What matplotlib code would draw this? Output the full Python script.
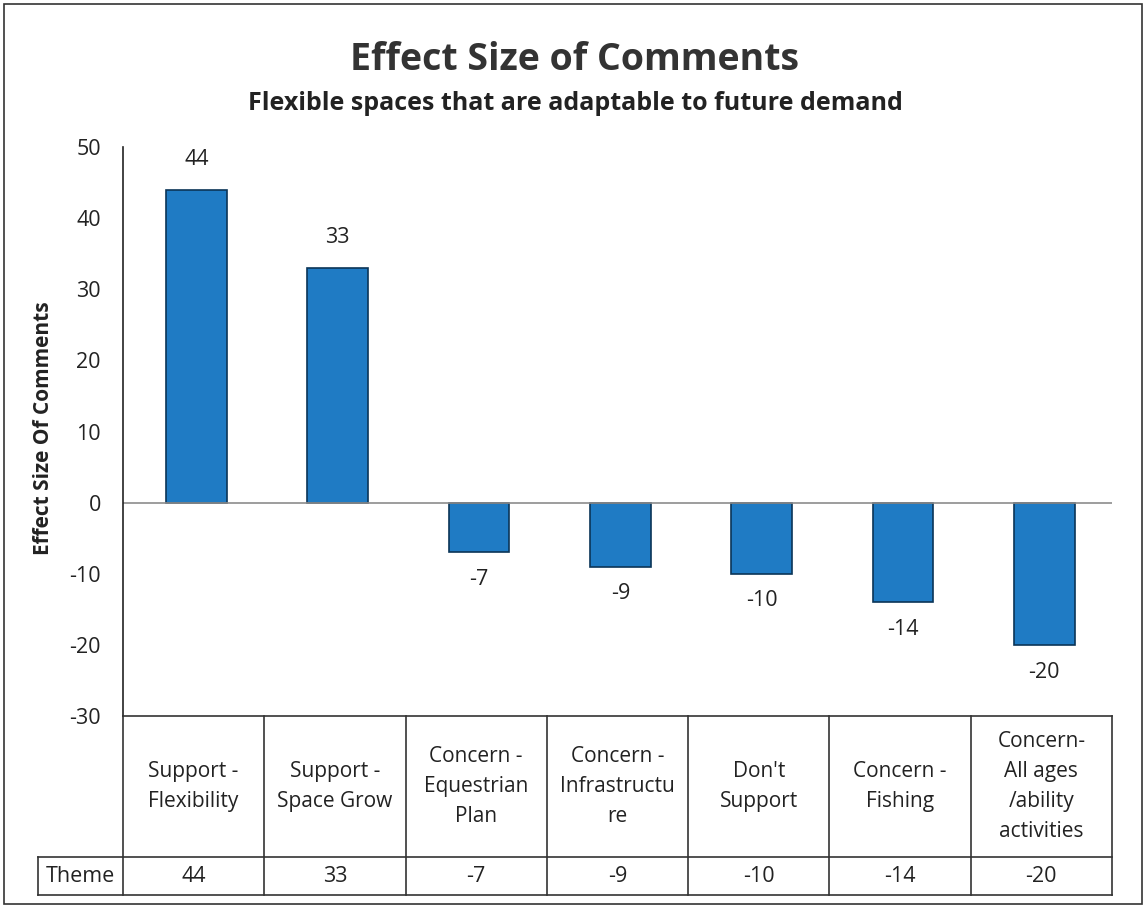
"""
Effect Size of Comments - bar chart with data table underneath
"""
import matplotlib.pyplot as plt
import numpy as np

categories = ['Support -\nFlexibility', 'Support -\nSpace Grow', 'Concern -\nEquestrian\nPlan',
              'Concern -\nInfrastructu\nre', "Don't\nSupport", 'Concern -\nFishing',
              'Concern-\nAll ages\n/ability\nactivities']
values = [44, 33, -7, -9, -10, -14, -20]
series_name = 'Theme'
yticks = [50, 40, 30, 20, 10, 0, -10, -20, -30]

W, H = 1146, 911
plt.rcParams['font.family'] = ['Open Sans', 'DejaVu Sans']
fig = plt.figure(figsize=(W / 100, H / 100), dpi=100)


def box(x0, y0, x1, y1):
    # pixel box (top-left origin) -> figure rect
    return [x0 / W, 1 - y1 / H, (x1 - x0) / W, (y1 - y0) / H]


# outer chart border
fig.patches.append(plt.Rectangle((4 / W, 1 - 904 / H), 1138 / W, 900 / H,
                                 transform=fig.transFigure, fill=False,
                                 edgecolor='#333333', linewidth=1.2))

n = len(values)
x = np.arange(n) + 0.5

ax = fig.add_axes(box(123, 147, 1112, 716))
ax.bar(x + 0.02, values, width=0.43, color='#1f7bc4', edgecolor='#0b3557', linewidth=1.2)
ax.axhline(0, color='#8c8c8c', linewidth=1.2)
ax.set_xlim(0, n)
ax.set_ylim(-30, 50)
ax.set_yticks(yticks)
ax.set_yticklabels([str(t) for t in yticks], fontsize=15.5, color='#222222')
ax.tick_params(axis='y', length=0, pad=16)
ax.set_xticks([])
for s in ['top', 'right', 'bottom']:
    ax.spines[s].set_visible(False)
ax.spines['left'].set_color('#222222')
ax.spines['left'].set_linewidth(1.2)

for xi, v in zip(x + 0.02, values):
    if v >= 0:
        ax.annotate(str(v), (xi, v), xytext=(0, 14), textcoords='offset points',
                    ha='center', va='bottom', fontsize=15.5, color='#222222')
    else:
        ax.annotate(str(v), (xi, v), xytext=(0, -12), textcoords='offset points',
                    ha='center', va='top', fontsize=15.5, color='#222222')

ax.set_ylabel('Effect Size Of Comments', fontsize=15, fontweight='bold',
              color='#222222')
ax.yaxis.set_label_coords(-0.07, 0.505)

# data table below the plot
tab = fig.add_axes(box(123, 716, 1112, 895))
tab.set_xlim(0, n)
tab.set_ylim(179, 0)
tab.axis('off')
row_split = 141
lc = '#333333'
tab.plot([0, n], [0, 0], color=lc, lw=1.2, clip_on=False)
tab.plot([-0.6, n], [row_split, row_split], color=lc, lw=1.2, clip_on=False)
tab.plot([-0.6, n], [179, 179], color=lc, lw=1.2, clip_on=False)
tab.plot([-0.6, -0.6], [row_split, 179], color=lc, lw=1.2, clip_on=False)
for i in range(n + 1):
    tab.plot([i, i], [0, 179], color=lc, lw=1.2, clip_on=False)

for xi, cat, v in zip(x, categories, values):
    tab.text(xi, row_split / 2, cat, ha='center', va='center', fontsize=15,
             color='#222222', linespacing=1.55)
    tab.text(xi, (row_split + 179) / 2, str(v), ha='center', va='center',
             fontsize=15.5, color='#222222')
tab.text(-0.3, (row_split + 179) / 2, series_name, ha='center', va='center',
         fontsize=15.5, color='#222222', clip_on=False)

fig.text(575 / W, 1 - 60 / H, 'Effect Size of Comments', ha='center', va='center',
         fontsize=27, fontweight='bold', color='#333333')
fig.text(575 / W, 1 - 104 / H, 'Flexible spaces that are adaptable to future demand',
         ha='center', va='center', fontsize=18, fontweight='bold', color='#222222')

plt.savefig('out.png', dpi=100)
plt.close()
